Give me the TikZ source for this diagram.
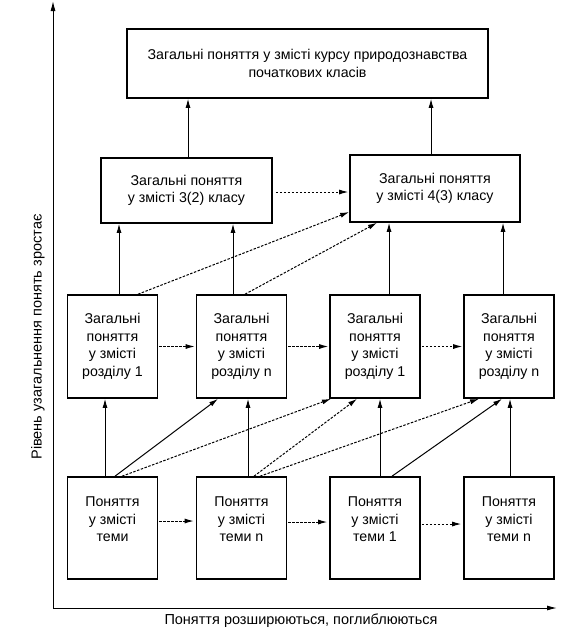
\documentclass[tikz,border=0pt]{standalone}
\usepackage{fontspec}
\setmainfont{Liberation Sans}
\usetikzlibrary{calc, positioning, arrows.meta}

\begin{document}
\begin{tikzpicture}[x=1pt, y=-1pt,
        box/.style={draw, rectangle, line width=1.6pt, align=center, inner sep=0pt, font=\fontsize{14.2}{17.5}\selectfont},
        colbox/.style={box, minimum width=90pt, minimum height=103pt},
        arrow/.style={-{Latex[length=9pt, width=5pt]}, line width=1pt},
        dotarrow/.style={arrow, dash pattern=on 2.5pt off 1.5pt},
        axis/.style={-{Latex[length=10pt, width=5pt]}, line width=1pt},
        axislabel/.style={font=\fontsize{14.5}{17.5}\selectfont, inner sep=0pt}
    ]
        \useasboundingbox (0,0) rectangle (584,637);

        % Nodes
        \node[box, minimum width=361pt, minimum height=69pt] (course) at (307.5,63.5) {Загальні поняття у змісті курсу природознавства\\початкових класів};
        \node[box, minimum width=171pt, minimum height=65pt] (classA) at (186.5,190.5) {Загальні поняття\\у змісті 3(2) класу};
        \node[box, minimum width=170pt, minimum height=67pt] (classB) at (435,188.5) {Загальні поняття\\у змісті 4(3) класу};

        % Sections
        \node[colbox] (secA) at (112.5,346.5) {Загальні\\поняття\\у змісті\\розділу 1};
        \node[colbox] (secB) at (241.5,346.5) {Загальні\\поняття\\у змісті\\розділу n};
        \node[colbox] (secC) at (375,346.5) {Загальні\\поняття\\у змісті\\розділу 1};
        \node[colbox] (secD) at (509,346.5) {Загальні\\поняття\\у змісті\\розділу n};

        % Topics (empty last line lifts the text)
        \node[colbox, minimum height=102pt] (topA) at (112.5,528) {Поняття\\у змісті\\теми\\\mbox{}};
        \node[colbox, minimum height=102pt] (topB) at (241.5,528) {Поняття\\у змісті\\теми n\\\mbox{}};
        \node[colbox, minimum height=102pt] (topC) at (375,528) {Поняття\\у змісті\\теми 1\\\mbox{}};
        \node[colbox, minimum height=102pt] (topD) at (509,528) {Поняття\\у змісті\\теми n\\\mbox{}};

        % Axes
        \coordinate (origin) at (53,608);
        \coordinate (yend) at (53,1);
        \coordinate (xend) at (557,608);
        \draw[axis] (origin) -- (yend);
        \draw[axis] (origin) -- (xend);
        \node[axislabel] (xlabel) at (301,621) {Поняття розширюються, поглиблюються};
        \node[axislabel, rotate=90] (ylabel) at (38,337) {Рівень узагальнення понять зростає};

        % Classes to course
        \draw[arrow] ([xshift=1.5pt]classA.north) -- ([xshift=1.5pt]classA.north |- course.south);
        \draw[arrow] ([xshift=-4pt]classB.north) -- ([xshift=-4pt]classB.north |- course.south);
        \draw[dotarrow, shorten <=3pt, shorten >=1pt] ([yshift=-1.5pt]classA.east) -- ([yshift=-1.5pt]classA.east -| classB.west);

        % Sections to classes
        \draw[arrow] ([xshift=6.5pt]secA.north) -- ([xshift=6.5pt]secA.north |- classA.south);
        \draw[arrow] ([xshift=-8.5pt]secB.north) -- ([xshift=-8.5pt]secB.north |- classA.south);
        \draw[arrow] ([xshift=14pt]secC.north) -- ([xshift=14pt]secC.north |- classB.south);
        \draw[arrow] ([xshift=-6pt]secD.north) -- ([xshift=-6pt]secD.north |- classB.south);
        \draw[dotarrow] ([xshift=25.5pt]secA.north) -- ([yshift=-23.5pt]classB.west);
        \draw[dotarrow] ([xshift=3.5pt]secB.north) -- ([xshift=-58pt]classB.south);

        % Between sections
        \draw[dotarrow, shorten <=1pt, shorten >=1pt] (secA.east) -- (secB.west);
        \draw[dotarrow, shorten <=1pt, shorten >=1pt] (secB.east) -- (secC.west);
        \draw[dotarrow, shorten <=1pt, shorten >=1pt] (secC.east) -- (secD.west);

        % Topics to sections
        \draw[arrow] ([xshift=-7.5pt]topA.north) -- ([xshift=-7.5pt]topA.north |- secA.south);
        \draw[arrow] ([xshift=6.5pt]topB.north) -- ([xshift=6.5pt]topB.north |- secB.south);
        \draw[arrow] ([xshift=5pt]topC.north) -- ([xshift=5pt]topC.north |- secC.south);
        \draw[arrow] ([xshift=1pt]topD.north) -- ([xshift=1pt]topD.north |- secD.south);
        \draw[arrow] ([xshift=2.5pt]topA.north) -- ([xshift=-23.5pt]secB.south);
        \draw[arrow] ([xshift=17pt]topC.north) -- ([xshift=-7pt]secD.south);
        \draw[dotarrow] ([xshift=9.5pt]topA.north) -- ([xshift=-44pt]secC.south);
        \draw[dotarrow] ([xshift=12.5pt]topB.north) -- ([xshift=-18pt]secC.south);
        \draw[dotarrow] ([xshift=18.5pt]topB.north) -- ([xshift=-30pt]secD.south);

        % Between topics
        \draw[dotarrow, shorten <=1pt, shorten >=2pt] ([yshift=7pt]topA.east) -- ([yshift=7pt]topB.west);
        \draw[dotarrow, shorten <=1pt, shorten >=2pt] ([yshift=6pt]topB.east) -- ([yshift=6pt]topC.west);
        \draw[dotarrow, shorten <=1pt, shorten >=2pt] ([yshift=4pt]topC.east) -- ([yshift=4pt]topD.west);

    \end{tikzpicture}
\end{document}
